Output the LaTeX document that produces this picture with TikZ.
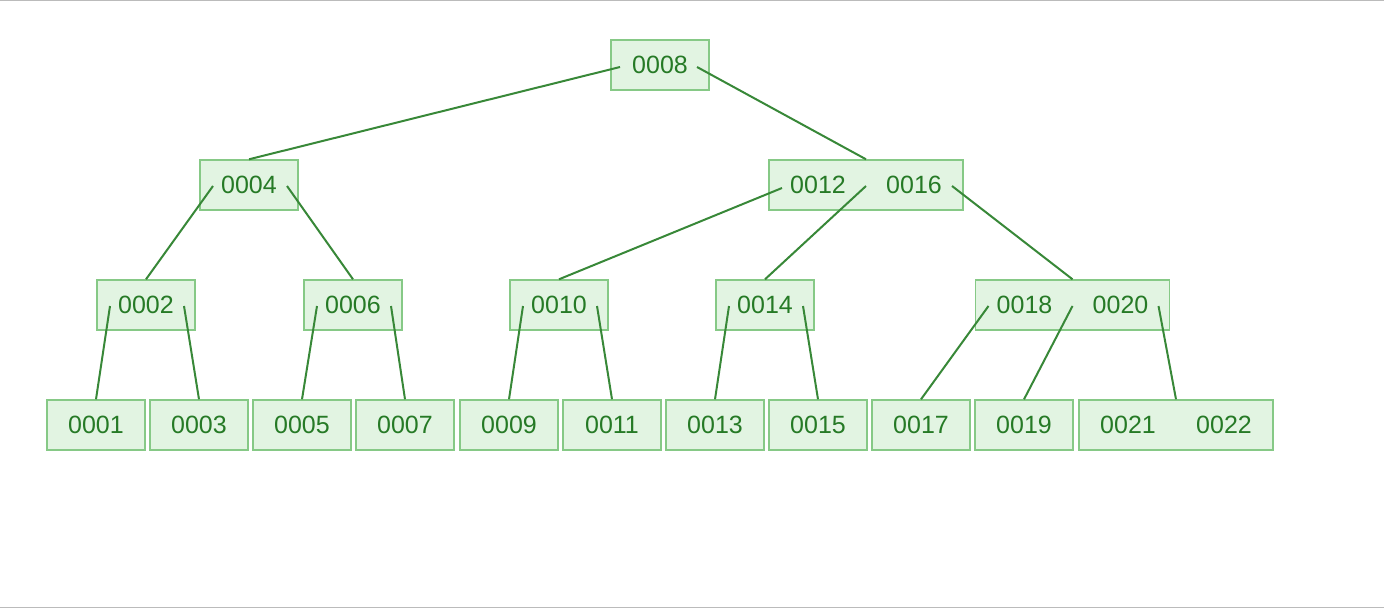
\documentclass[tikz,border=0pt]{standalone}
\usepackage{fontspec}
\setmainfont{Liberation Sans}
\usetikzlibrary{calc}
\definecolor{pagefill}{HTML}{E2F4E2}
\definecolor{pageborder}{HTML}{86C986}
\definecolor{linkcolor}{HTML}{388838}
\definecolor{keycolor}{HTML}{267A26}
\definecolor{framegray}{HTML}{BBBBBB}
\tikzset{
  page/.style={draw=pageborder, fill=pagefill, line width=0.7pt,
    minimum width=49pt, minimum height=25pt, inner sep=0pt,
    text=keycolor, font=\fontsize{12.5}{14}\selectfont},
  widepage/.style={page, minimum width=97pt},
  key/.style={text=keycolor, inner sep=0pt, font=\fontsize{12.5}{14}\selectfont},
  link/.style={draw=linkcolor, line width=1pt},
}

\begin{document}
\begin{tikzpicture}[x=0.5pt,y=-0.5pt]
    \useasboundingbox (0,0) rectangle (1384,610);
    \draw[framegray, line width=0.7pt] (0,0.7) -- (1384,0.7);
    \draw[framegray, line width=0.7pt] (0,607.5) -- (1384,607.5);
    % pages
    \node[page] (k0008) at (660,65) {0008};
    \node[page] (k0004) at (249,185) {0004};
    \node[widepage] (k0012) at (866,185) {};
    \node[key] at ($(k0012)+(-48,0)$) {0012};
    \node[key] at ($(k0012)+(48,0)$) {0016};
    \foreach \k/\x in {0002/146,0006/353,0010/559,0014/765}
        \node[page] (k\k) at (\x,305) {\k};
    \node[widepage] (k0018) at (1072.5,305) {};
    \node[key] at ($(k0018)+(-48,0)$) {0018};
    \node[key] at ($(k0018)+(48,0)$) {0020};
    \foreach \k/\x in {0001/96,0003/199,0005/302,0007/405,0009/509,0011/612,0013/715,0015/818,0017/921,0019/1024}
        \node[page] (k\k) at (\x,425) {\k};
    \node[widepage] (k0021) at (1176,425) {};
    \node[key] at ($(k0021)+(-48,0)$) {0021};
    \node[key] at ($(k0021)+(48,0)$) {0022};
    % links
    \draw[link] ($(k0008)+(-40,2)$) -- (k0004.north);
    \draw[link] ($(k0008)+(37,2)$) -- (k0012.north);
    \draw[link] ($(k0004)+(-36,1)$) -- (k0002.north);
    \draw[link] ($(k0004)+(38,1)$) -- (k0006.north);
    \draw[link] ($(k0012)+(-84,3)$) -- (k0010.north);
    \draw[link] ($(k0012)+(0,1)$) -- (k0014.north);
    \draw[link] ($(k0012)+(86,1)$) -- (k0018.north);
    \foreach \p/\a/\b in {0002/0001/0003,0006/0005/0007,0010/0009/0011,0014/0013/0015} {
        \draw[link] ($(k\p)+(-36,1)$) -- (k\a.north);
        \draw[link] ($(k\p)+(38,1)$) -- (k\b.north);
    }
    \draw[link] ($(k0018)+(-84,1)$) -- (k0017.north);
    \draw[link] ($(k0018)+(0,1)$) -- (k0019.north);
    \draw[link] ($(k0018)+(86,1)$) -- (k0021.north);
\end{tikzpicture}
\end{document}
